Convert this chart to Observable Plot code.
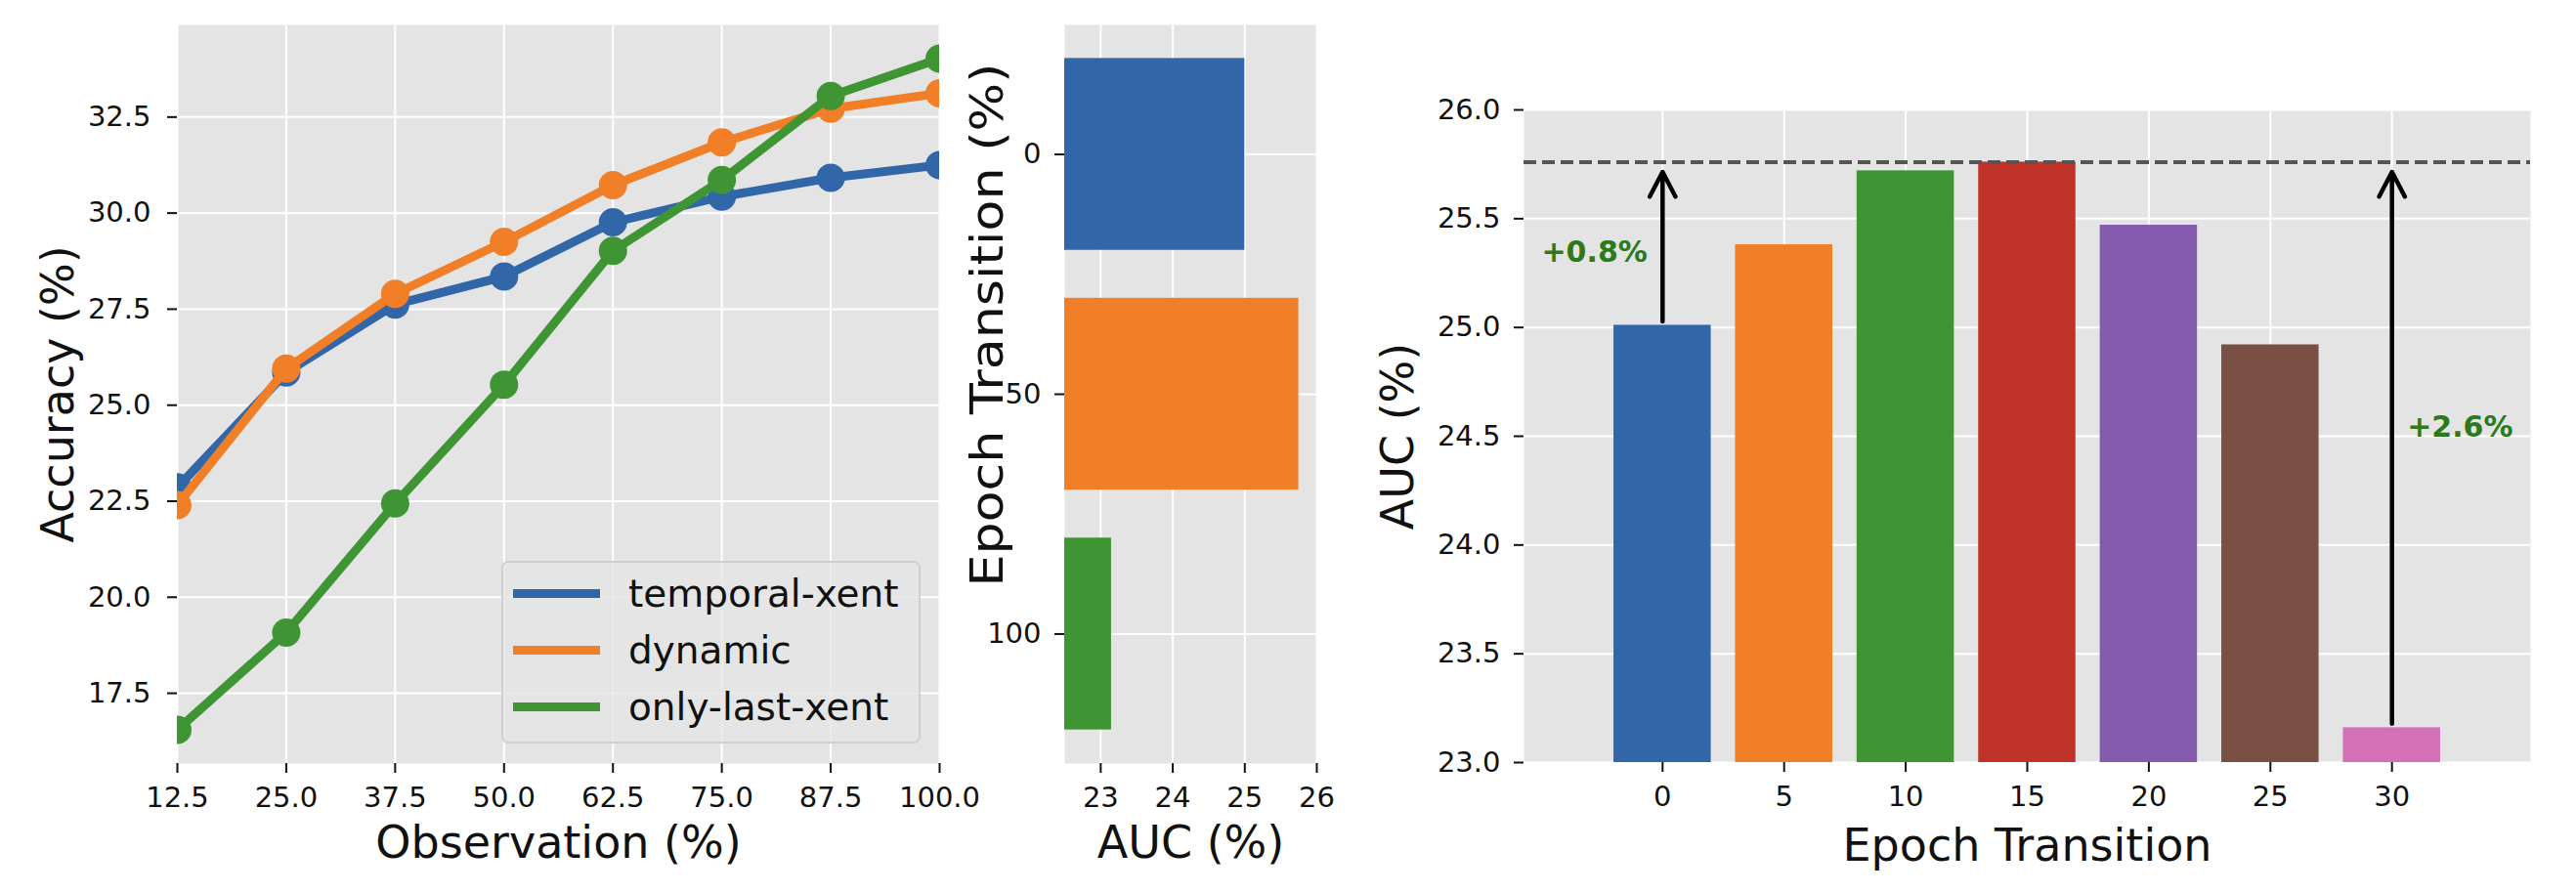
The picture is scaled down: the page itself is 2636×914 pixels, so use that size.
<!DOCTYPE html>
<html><head><meta charset="utf-8">
<script src="https://cdn.jsdelivr.net/npm/d3@7"></script>
<script src="https://cdn.jsdelivr.net/npm/@observablehq/plot@0.6"></script>
<style>
html,body{margin:0;padding:0;background:#fff;}
#wrap{position:relative;width:2636px;height:914px;overflow:hidden;background:#fff;}
#wrap svg{position:absolute;left:0;top:0;overflow:visible;}
#legend{position:absolute;left:513px;top:574px;width:425px;height:183px;border:2px solid #cfcfcf;border-radius:7px;background:rgba(229,229,229,0.8);box-sizing:content-box;font-family:"DejaVu Sans",sans-serif;font-size:39px;color:#111;}
#legend .row{position:absolute;left:0;height:58px;}
#legend .sw{position:absolute;left:10px;width:89px;height:9px;}
#legend .lb{position:absolute;left:128px;white-space:nowrap;line-height:39px;}
</style></head><body><div id="wrap"><div id="legend"></div></div>
<script>
// ---------- Panel 1 data: accuracy vs observation ----------
const observation = [12.5, 25, 37.5, 50, 62.5, 75, 87.5, 100];
const seriesNames = ["temporal-xent", "dynamic", "only-last-xent"];
const temporalXent = [22.86, 25.85, 27.62, 28.35, 29.76, 30.43, 30.92, 31.25];
const dynamicAcc   = [22.40, 25.95, 27.90, 29.25, 30.73, 31.84, 32.72, 33.12];
const onlyLastXent = [16.55, 19.08, 22.44, 25.53, 29.02, 30.86, 33.05, 34.02];
const seriesColors = ["#3167a8", "#f07f28", "#3f9434"];
const accTicks = [17.5, 20, 22.5, 25, 27.5, 30, 32.5];

// ---------- Panel 2 data: horizontal AUC bars ----------
const auc2Epochs = [0, 50, 100];
const auc2Values = [25.0, 25.75, 23.15];
const auc2Ticks = [23, 24, 25, 26];

// ---------- Panel 3 data: AUC vs epoch transition ----------
const epochs = [0, 5, 10, 15, 20, 25, 30];
const aucValues = [25.01, 25.38, 25.72, 25.76, 25.47, 24.92, 23.16];
const barColors = ["#3167a8", "#f07f28", "#3f9434", "#c0332a", "#855bb0", "#7a4f44", "#d470b6"];
const aucTicks = [23, 23.5, 24, 24.5, 25, 25.5, 26];
const annoEpochs = [0, 30];
const annoLabels = ["+0.8%", "+2.6%"];
const annoX = [-2.8, 32.8];
const annoY = [25.345, 24.54];

const W = 2636, H = 914;
const BG = "#e4e4e4";
const FONT = "DejaVu Sans";
const svgStyle = {background: "transparent", fontFamily: FONT, fontSize: "29px", color: "#111", overflow: "visible"};
const wrap = document.getElementById("wrap");
const grid = {stroke: "white", strokeOpacity: 1, strokeWidth: 2};
const axisOpts = {tickSize: 10, tickPadding: 14, strokeWidth: 2, label: null};
const xLabel = (t, dy) => Plot.text([t], {frameAnchor: "bottom", lineAnchor: "bottom", textAnchor: "middle", dy, fontSize: 46, fill: "#111"});
const yLabel = (t, dx, dy = 0, fontSize = 46) => Plot.text([t], {frameAnchor: "left", lineAnchor: "bottom", textAnchor: "middle", rotate: -90, dx, dy, fontSize, fill: "#111"});

// ---------------- Panel 1 ----------------
const accSeries = [temporalXent, dynamicAcc, onlyLastXent];
const seriesMarks = seriesNames.flatMap((name, i) => {
  const data = observation.map((x, j) => ({name, x, y: accSeries[i][j]}));
  return [
    Plot.line(data, {x: "x", y: "y", stroke: seriesColors[i], strokeWidth: 9, clip: true}),
    Plot.dot(data, {x: "x", y: "y", r: 14.5, fill: seriesColors[i], stroke: "none", clip: true})
  ];
});
const p1 = Plot.plot({
  width: W, height: H,
  marginLeft: 181, marginRight: W - 961, marginTop: 25, marginBottom: H - 781,
  style: svgStyle,
  x: {domain: [12.5, 100]},
  y: {domain: [15.67, 34.9]},
  marks: [
    Plot.frame({fill: BG, stroke: "none"}),
    Plot.gridX({ticks: observation, ...grid}),
    Plot.gridY({ticks: accTicks, ...grid}),
    ...seriesMarks,
    Plot.axisX({ticks: observation, tickFormat: d3.format(".1f"), ...axisOpts}),
    Plot.axisY({ticks: accTicks, tickFormat: d3.format(".1f"), ...axisOpts, tickPadding: 17}),
    xLabel("Observation (%)", 96),
    yLabel("Accuracy (%)", -107)
  ]
});
wrap.appendChild(p1);

// ---------------- Panel 2 ----------------
const barHeight2 = 40;
const data2 = auc2Epochs.map((e, i) => ({e, auc: auc2Values[i], c: seriesColors[i]}));
const p2YLabel = "Epoch Transition (%)";
const p2 = Plot.plot({
  width: W, height: H,
  marginLeft: 1089, marginRight: W - 1347, marginTop: 25, marginBottom: H - 781,
  style: svgStyle,
  x: {domain: [22.5, 26]},
  y: {domain: [-27, 127], reverse: true},
  marks: [
    Plot.frame({fill: BG, stroke: "none"}),
    Plot.gridX({ticks: auc2Ticks, ...grid}),
    Plot.gridY({ticks: auc2Epochs, ...grid}),
    Plot.rect(data2, {x1: 0, x2: "auc", y1: d => d.e - barHeight2 / 2, y2: d => d.e + barHeight2 / 2, fill: "c", clip: true}),
    Plot.axisX({ticks: auc2Ticks, tickFormat: d3.format("d"), ...axisOpts}),
    Plot.axisY({ticks: auc2Epochs, tickFormat: d3.format("d"), ...axisOpts}),
    xLabel("AUC (%)", 96),
    yLabel(p2YLabel, -64, -71, 46)
  ]
});
// the reference stretches this label along its length
p2.querySelectorAll("text").forEach(t => {
  if (t.textContent === p2YLabel) {
    t.setAttribute("textLength", 536);
    t.setAttribute("lengthAdjust", "spacingAndGlyphs");
  }
});
wrap.appendChild(p2);

// ---------------- Panel 3 ----------------
const barWidth3 = 4;
const data3 = epochs.map((e, i) => ({e, auc: aucValues[i], c: barColors[i]}));
const best = d3.max(aucValues);
const arrows = annoEpochs.map(e => ({e, from: aucValues[epochs.indexOf(e)], to: best}));
const annos = annoLabels.map((t, i) => ({t, x: annoX[i], y: annoY[i]}));
const p3 = Plot.plot({
  width: W, height: H,
  marginLeft: 1559, marginRight: W - 2589, marginTop: 112, marginBottom: H - 780,
  style: svgStyle,
  x: {domain: [-5.7, 35.7]},
  y: {domain: [23, 26]},
  marks: [
    Plot.frame({fill: BG, stroke: "none"}),
    Plot.gridX({ticks: epochs, ...grid}),
    Plot.gridY({ticks: aucTicks, ...grid}),
    Plot.rect(data3, {x1: d => d.e - barWidth3 / 2, x2: d => d.e + barWidth3 / 2, y1: 0, y2: "auc", fill: "c", clip: true}),
    Plot.ruleY([best], {stroke: "#555", strokeWidth: 4, strokeDasharray: "13,6"}),
    Plot.arrow(arrows, {x1: "e", x2: "e", y1: "from", y2: "to", stroke: "black", strokeWidth: 4.5, headLength: 9.5, headAngle: 55, insetStart: 4, insetEnd: 10}),
    Plot.text(annos, {x: "x", y: "y", text: "t", fill: "#2b7a1b", fontWeight: "bold", fontSize: 30}),
    Plot.axisX({ticks: epochs, tickFormat: d3.format("d"), ...axisOpts}),
    Plot.axisY({ticks: aucTicks, tickFormat: d3.format(".1f"), ...axisOpts}),
    xLabel("Epoch Transition", 100),
    yLabel("AUC (%)", -114)
  ]
});
wrap.appendChild(p3);

// ---------------- Legend (HTML, inside panel 1) ----------------
const legend = document.getElementById("legend");
const rowCenters = [32, 90, 148];
seriesNames.forEach((name, i) => {
  const row = document.createElement("div");
  row.className = "row";
  row.style.top = (rowCenters[i] - 29) + "px";
  row.style.width = "100%";
  const sw = document.createElement("div");
  sw.className = "sw";
  sw.style.background = seriesColors[i];
  sw.style.top = "24px";
  const lb = document.createElement("div");
  lb.className = "lb";
  lb.textContent = name;
  lb.style.top = "9px";
  row.appendChild(sw);
  row.appendChild(lb);
  legend.appendChild(row);
});
wrap.appendChild(legend);
</script>
</body></html>
